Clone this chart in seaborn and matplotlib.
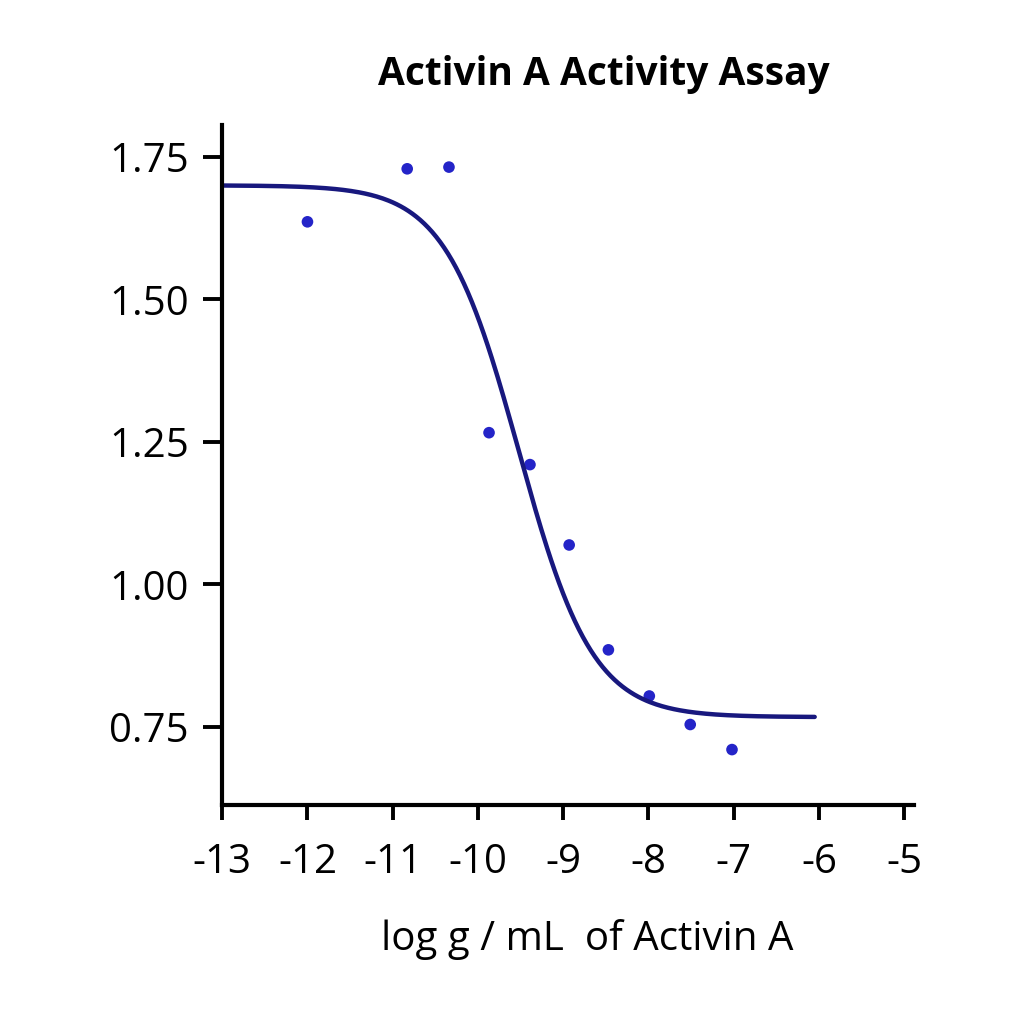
import numpy as np
import pandas as pd
import seaborn as sns
import matplotlib
matplotlib.use("Agg")
import matplotlib.pyplot as plt

# measured points (log g/mL, response)
log_conc = [-12.0, -10.83, -10.34, -9.87, -9.39, -8.93, -8.47, -7.99, -7.51, -7.02]
response = [1.636, 1.729, 1.732, 1.266, 1.210, 1.069, 0.885, 0.804, 0.754, 0.710]

# 4PL fit parameters
fit_top = 1.70
fit_bottom = 0.767
fit_ec50 = -9.52
fit_hill = 1.0
fit_range = (-13.0, -6.05)

xticks = [-13, -12, -11, -10, -9, -8, -7, -6, -5]
yticks = [0.75, 1.00, 1.25, 1.50, 1.75]

sns.set_theme(style="ticks")
plt.rcParams['font.family'] = ['Open Sans', 'DejaVu Sans']
plt.rcParams['text.color'] = 'black'

pts = pd.DataFrame({"x": log_conc, "y": response})
xs = np.linspace(fit_range[0], fit_range[1], 300)
curve = pd.DataFrame({"x": xs,
                      "y": fit_bottom + (fit_top - fit_bottom) / (1 + 10 ** ((xs - fit_ec50) * fit_hill))})

fig = plt.figure(figsize=(10.24, 10.24), dpi=100)
ax = fig.add_axes([0.217, 0.214, 0.676, 0.664])

sns.lineplot(data=curve, x="x", y="y", ax=ax, color="#18187e", linewidth=3.2)
sns.scatterplot(data=pts, x="x", y="y", ax=ax, color="#2424c8", s=70, edgecolor="none")

ax.set_xlim(-13.0, -4.88)
ax.set_ylim(0.613, 1.806)
ax.set_xticks(xticks)
ax.set_xticklabels([str(t) for t in xticks])
ax.set_yticks(yticks)
ax.set_yticklabels([f"{t:.2f}" for t in yticks])
ax.set_xlabel("")
ax.set_ylabel("")
sns.despine(ax=ax)
for s in ["left", "bottom"]:
    ax.spines[s].set_linewidth(3.0)
    ax.spines[s].set_color("black")
ax.tick_params(axis="both", width=2.8, color="black", labelcolor="black", labelsize=29)
ax.tick_params(axis="x", length=11, pad=16)
ax.tick_params(axis="y", length=14, pad=10)

fig.text(0.59, 0.927, "Activin A Activity Assay", ha="center", va="center",
         fontsize=28, fontweight="bold", color="black")
fig.text(0.573, 0.083, "log g / mL  of Activin A", ha="center", va="center",
         fontsize=29, color="black")

fig.savefig("out.png", dpi=100, facecolor="white")
